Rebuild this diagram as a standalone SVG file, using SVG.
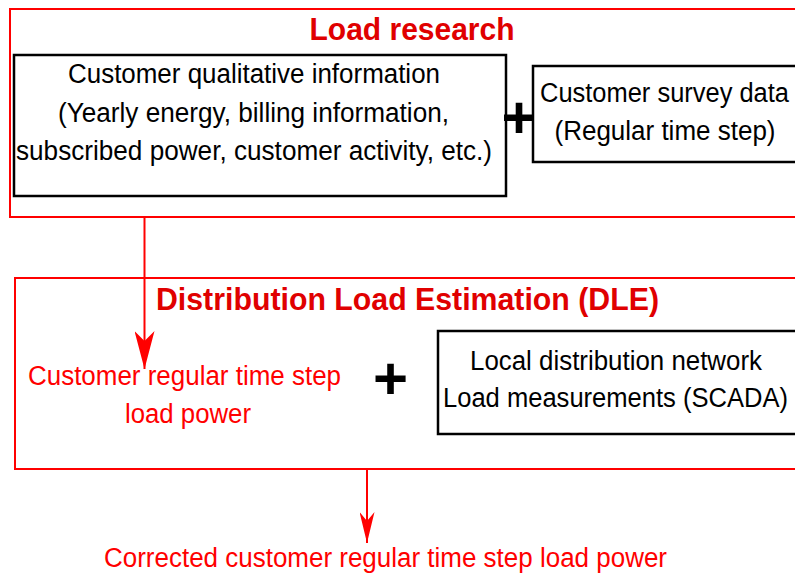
<svg xmlns="http://www.w3.org/2000/svg" width="795" height="573" viewBox="0 0 795 573">
  <defs>
    <style>
      .group-box { fill: none; stroke: #ff0000; stroke-width: 2; }
      .node-box { fill: #ffffff; stroke: #000000; stroke-width: 2.5; }
      .title { font-family: "Liberation Sans", Arial, sans-serif; font-weight: bold; fill: #e00000; text-anchor: middle; }
      .txt { font-family: "Liberation Sans", Arial, sans-serif; font-size: 27px; fill: #000000; text-anchor: middle; }
      .rtxt { font-family: "Liberation Sans", Arial, sans-serif; font-size: 27px; fill: #ff0000; text-anchor: middle; }
      .plus { font-family: "Liberation Sans", Arial, sans-serif; font-weight: bold; font-size: 60px; fill: #000000; text-anchor: middle; }
      .conn { fill: none; stroke: #ff0000; stroke-width: 2; }
    </style>
    <marker id="arrow-lg" markerUnits="userSpaceOnUse" viewBox="0 0 38 20" markerWidth="38" markerHeight="20" refX="38" refY="10" orient="auto">
      <path d="M0,0 L38,10 L0,20 L10,10 Z" fill="#ff0000"/>
    </marker>
    <marker id="arrow-sm" markerUnits="userSpaceOnUse" viewBox="0 0 31 15" markerWidth="31" markerHeight="15" refX="31" refY="7.5" orient="auto">
      <path d="M0,0 L31,7.5 L0,15 L9,7.5 Z" fill="#ff0000"/>
    </marker>
  </defs>
  <rect width="795" height="573" fill="#ffffff"/>

  <g id="load-research">
    <rect class="group-box" x="10" y="9" width="800" height="208"/>
    <text class="title" x="412" y="40" font-size="32" textLength="205" lengthAdjust="spacingAndGlyphs">Load research</text>
  </g>

  <g id="customer-qualitative">
    <rect class="node-box" x="14" y="55" width="492" height="141"/>
    <text class="txt" x="254" y="83" textLength="372" lengthAdjust="spacingAndGlyphs">Customer qualitative information</text>
    <text class="txt" x="253.5" y="121.5" textLength="391" lengthAdjust="spacingAndGlyphs">(Yearly energy, billing information,</text>
    <text class="txt" x="254" y="160" textLength="476" lengthAdjust="spacingAndGlyphs">subscribed power, customer activity, etc.)</text>
  </g>

  <g id="plus-1">
    <text class="plus" x="519" y="137.5">+</text>
  </g>

  <g id="customer-survey">
    <rect class="node-box" x="533" y="66" width="280" height="96"/>
    <text class="txt" x="664.5" y="102" textLength="249" lengthAdjust="spacingAndGlyphs">Customer survey data</text>
    <text class="txt" x="665" y="140" textLength="221" lengthAdjust="spacingAndGlyphs">(Regular time step)</text>
  </g>

  <g id="dle">
    <rect class="group-box" x="15" y="278" width="800" height="191"/>
    <text class="title" x="407.5" y="310" font-size="31" textLength="503" lengthAdjust="spacingAndGlyphs">Distribution Load Estimation (DLE)</text>
  </g>

  <g id="customer-load-power">
    <text class="rtxt" x="184.5" y="385" textLength="313" lengthAdjust="spacingAndGlyphs">Customer regular time step</text>
    <text class="rtxt" x="188" y="423" textLength="126" lengthAdjust="spacingAndGlyphs">load power</text>
  </g>

  <g id="plus-2">
    <text class="plus" x="390.5" y="399">+</text>
  </g>

  <g id="local-measurements">
    <rect class="node-box" x="438" y="331" width="375" height="103"/>
    <text class="txt" x="616" y="370" textLength="292" lengthAdjust="spacingAndGlyphs">Local distribution network</text>
    <text class="txt" x="615.5" y="407" textLength="345" lengthAdjust="spacingAndGlyphs">Load measurements (SCADA)</text>
  </g>

  <g id="corrected-load-power">
    <text class="rtxt" x="385.5" y="567" textLength="563" lengthAdjust="spacingAndGlyphs">Corrected customer regular time step load power</text>
  </g>

  <g id="connectors">
    <line class="conn" x1="144.5" y1="217" x2="144.5" y2="369" marker-end="url(#arrow-lg)"/>
    <line class="conn" x1="367" y1="469" x2="367" y2="543" marker-end="url(#arrow-sm)"/>
  </g>
</svg>
